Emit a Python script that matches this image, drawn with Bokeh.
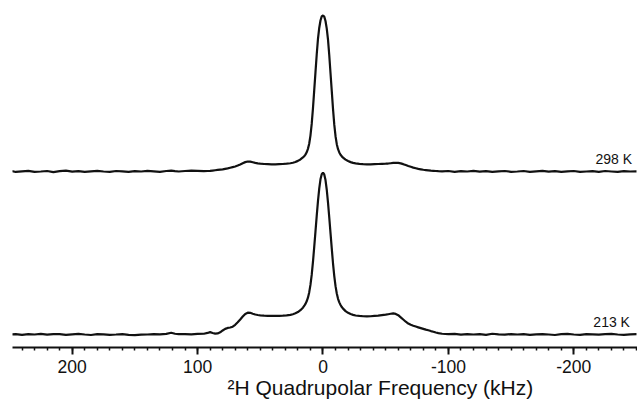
from bokeh.plotting import figure
from bokeh.models import Range1d, SingleIntervalTicker, Label, Title, PrintfTickFormatter
from bokeh.embed import file_html
from bokeh.resources import INLINE

# Frequency axis (kHz)
freq_khz = [248, 245, 240, 235, 230, 225, 220, 215, 210, 205, 200, 195, 190, 185, 180, 175, 170,
            165, 160, 155, 150, 145, 140, 135, 130, 125, 121, 118, 115, 110, 105, 100, 95,
            92, 90, 88, 86, 84, 82, 80, 78, 76, 74, 72, 70, 68, 66, 64, 62, 60, 58, 56, 54, 52, 50,
            47, 44, 41, 38, 35, 32, 29, 26, 24, 22, 20, 18, 16,
            15, 14, 13, 12, 11, 10, 9, 8, 7, 6, 5, 4, 3, 2, 1, 0,
            -1, -2, -3, -4, -5, -6, -7, -8, -9, -10, -11, -12, -13, -14, -15,
            -16, -18, -20, -22, -24, -26, -29, -32, -35, -38, -41, -44, -47,
            -50, -52, -54, -56, -58, -60, -62, -64, -66, -68, -70, -72, -74, -76, -78, -80,
            -82, -84, -86, -88, -90, -92,
            -95, -100, -105, -110, -115, -120, -125, -130, -135, -140, -145, -150, -155, -160,
            -165, -170, -175, -180, -185, -190, -195, -200, -205, -210, -215, -220, -225, -230,
            -235, -240, -245, -250]

# 298 K spectrum (intensity, peak = 100)
spec_298K = [0.2, -0.3, 0.1, 0.4, -0.2, 0.0, 0.3, -0.4, 0.2, 0.5, -0.1, 0.2, -0.3, 0.1, 0.4, 0.0, -0.2,
             0.3, 0.1, -0.3, 0.2, 0.0, 0.4, 0.1, -0.2, 0.3, 0.5, 0.2, 0.0, 0.3, 0.6, 0.4, 0.2,
             0.3, 0.4, 0.6, 0.8, 1.0, 1.2, 1.4, 1.7, 2.0, 2.4, 2.8, 3.2, 3.8, 4.5, 5.3, 6.0, 6.4, 6.3,
             5.9, 5.5, 5.2, 5.0,
             4.8, 4.7, 4.6, 4.6, 4.7, 4.8, 5.0, 5.3, 5.6, 6.1, 6.8, 7.7, 9.0,
             9.8, 10.8, 12.3, 14.5, 17.8, 23.0, 30.5, 40.5, 52.0, 63.5, 75.0, 85.0, 92.0, 96.8, 99.4, 100.0,
             99.3, 96.5, 91.6, 84.5, 74.5, 63.0, 51.5, 40.0, 30.0, 22.6, 17.5, 14.3, 12.2, 10.7, 9.7,
             8.9, 7.6, 6.7, 6.0, 5.5, 5.2, 4.9, 4.7, 4.6, 4.6, 4.7, 4.8, 4.9,
             5.0, 5.1, 5.3, 5.5, 5.6, 5.5, 5.2, 4.7, 4.1, 3.5, 3.0, 2.5, 2.1, 1.7, 1.4, 1.1,
             0.9, 0.7, 0.5, 0.4, 0.3, 0.2,
             0.1, 0.3, -0.2, 0.2, 0.0, 0.4, -0.1, 0.2, -0.3, 0.1, 0.3, -0.2, 0.0, 0.3,
             -0.3, 0.1, 0.4, -0.1, 0.2, -0.2, 0.1, 0.3, -0.3, 0.0, 0.2, -0.2, 0.3, 0.0,
             -0.3, 0.2, 0.0, 0.1]

# 213 K spectrum (same intensity units)
spec_213K = [0.1, 0.3, -0.2, 0.2, 0.0, 0.4, -0.1, 0.2, 0.3, -0.2, 0.1, 0.4, 0.0, -0.3, 0.2, 0.1, -0.2,
             0.0, 0.3, -0.2, -0.4, -0.1, 0.0, 0.2, 0.1, 0.4, 1.1, 0.5, 0.2, 0.3, 0.1, 0.4, 0.5,
             1.0, 1.5, 1.0, 0.6, 0.7, 1.4, 2.6, 3.6, 4.2, 4.5, 5.0, 6.2, 7.8, 9.6, 11.5, 13.2, 14.0, 13.9,
             13.3, 12.8, 12.5, 12.3,
             12.1, 12.0, 11.9, 11.9, 12.0, 12.1, 12.3, 12.6, 13.0, 13.6, 14.4, 15.6, 17.2,
             18.3, 19.6, 21.3, 23.6, 27.0, 31.8, 38.2, 46.5, 56.0, 66.0, 76.0, 85.5, 93.5, 99.5, 102.8, 103.8,
             102.6, 99.0, 92.8, 84.5, 75.0, 65.0, 55.0, 45.5, 37.4, 31.0, 26.3, 22.9, 20.6, 18.9, 17.6,
             16.6, 15.0, 13.9, 13.1, 12.6, 12.2, 11.9, 11.7, 11.6, 11.7, 11.9, 12.1, 12.4,
             12.7, 13.0, 13.3, 13.5, 13.2, 12.4, 11.0, 9.6, 8.2, 7.0, 6.2, 5.6, 5.1, 4.6, 4.1, 3.6,
             3.1, 2.7, 2.2, 1.8, 1.3, 0.9,
             0.5, 0.2, 0.4, -0.1, 0.3, 0.0, 0.2, -0.2, 0.5, 0.1, -0.1, 0.3, 0.0, 0.2,
             -0.2, 0.1, 0.3, 0.0, -0.3, 0.2, 0.4, 0.0, -0.2, 0.3, 0.1, -0.1, 0.2, 0.4,
             0.0, -0.2, 0.1, 0.2]

temperature_labels = ["298 K", "213 K"]
offset_298K = 104.5
offset_213K = 0.0
x_tick_interval = 100
x_label = "\u00b2H Quadrupolar Frequency (kHz)"

FONT = "Liberation Sans"
INK = "#111111"

p = figure(width=637, height=402, output_backend="svg", toolbar_location=None,
           x_range=Range1d(247.6, -250.8), y_range=Range1d(-8.33, 207.7),
           y_axis_location=None, min_border_left=12, min_border_right=0,
           min_border_top=10, min_border_bottom=55)
p.outline_line_color = None
p.grid.visible = False
p.background_fill_color = "white"
p.border_fill_color = "white"

p.line(freq_khz, [v + offset_298K for v in spec_298K], line_color=INK, line_width=2.2)
p.line(freq_khz, [v + offset_213K for v in spec_213K], line_color=INK, line_width=2.2)

ax = p.xaxis[0]
ax.ticker = SingleIntervalTicker(interval=x_tick_interval, num_minor_ticks=10)
ax.formatter = PrintfTickFormatter(format="%d")
ax.axis_line_width = 2
ax.axis_line_color = INK
ax.major_tick_in = 0
ax.major_tick_out = 7
ax.major_tick_line_width = 2
ax.major_tick_line_color = INK
ax.minor_tick_in = 0
ax.minor_tick_out = 3
ax.minor_tick_line_width = 1.5
ax.minor_tick_line_color = INK
ax.major_label_text_font = FONT
ax.major_label_text_font_size = "17.5px"
ax.major_label_text_color = INK
ax.major_label_standoff = 5

p.add_layout(Title(text=x_label, align="left", offset=215, standoff=-3,
                   text_font=FONT, text_font_size="21px", text_font_style="normal",
                   text_color=INK), "below")

p.add_layout(Label(x=-217.3, y=offset_298K + 8.3, text=temperature_labels[0],
                   text_font=FONT, text_font_size="14px", text_color=INK,
                   text_align="left", text_baseline="alphabetic"))
p.add_layout(Label(x=-215.6, y=offset_213K + 7.7, text=temperature_labels[1],
                   text_font=FONT, text_font_size="14px", text_color=INK,
                   text_align="left", text_baseline="alphabetic"))

open("out.html", "w").write(file_html(p, INLINE))
